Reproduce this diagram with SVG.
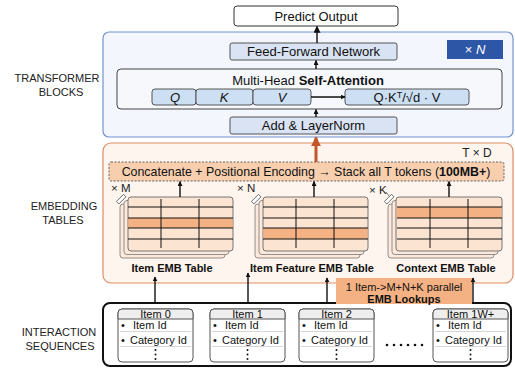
<svg xmlns="http://www.w3.org/2000/svg" width="515" height="368" viewBox="0 0 515 368">
<defs>
<style>
text{font-family:"Liberation Sans",Arial,sans-serif;fill:#111}
.side{font-size:11px;text-anchor:middle;fill:#222}
.box{font-size:13px;text-anchor:middle}
.blk{fill:#d9e3f3;stroke:#555;stroke-width:1}
.qkv{fill:#cddff3;stroke:#555;stroke-width:1}
.front{fill:#fce4d2;stroke:#555;stroke-width:0.8}
.back{fill:#fce9dc;stroke:#777;stroke-width:0.8}
.hl{fill:#f4b183}
.grid{stroke:#111;stroke-width:1;fill:none}
.tlabel{font-size:11px;font-weight:bold;text-anchor:middle}
.mult{font-size:11.5px;fill:#222}
.mark{fill:#fff;stroke:#555;stroke-width:0.8}
.card{fill:#fff;stroke:#555;stroke-width:1}
.chead{fill:#eeeeee;stroke:#555;stroke-width:1}
.ctext{font-size:11px}
.sep{stroke:#ccc;stroke-width:0.8}
.conn{stroke:#111;stroke-width:1.4;fill:none}
.dot{fill:#111}
</style>
<marker id="ah" viewBox="0 0 8 8" refX="7" refY="4" markerWidth="5" markerHeight="5" markerUnits="userSpaceOnUse" orient="auto">
<path d="M0,0 L8,4 L0,8 z" fill="#111"/>
</marker>
<marker id="ahB" viewBox="0 0 8 8" refX="7" refY="4" markerWidth="7" markerHeight="7" markerUnits="userSpaceOnUse" orient="auto">
<path d="M0,0 L8,4 L0,8 z" fill="#111"/>
</marker>
<marker id="ahO" viewBox="0 0 8 8" refX="7" refY="4" markerWidth="10" markerHeight="10" markerUnits="userSpaceOnUse" orient="auto">
<path d="M0,0 L8,4 L0,8 z" fill="#c4542a"/>
</marker>
<g id="tableGrid">
<line class="grid" x1="0" y1="10" x2="105" y2="10"/>
<line class="grid" x1="0" y1="21" x2="105" y2="21"/>
<line class="grid" x1="0" y1="31" x2="105" y2="31"/>
<line class="grid" x1="0" y1="42" x2="105" y2="42"/>
<line class="grid" x1="33" y1="2" x2="33" y2="51"/>
<line class="grid" x1="71" y1="2" x2="71" y2="51"/>
</g>
<g id="vdots">
<circle class="dot" cx="0" cy="0" r="1"/>
<circle class="dot" cx="0" cy="4.5" r="1"/>
<circle class="dot" cx="0" cy="9" r="1"/>
</g>
</defs>

<!-- side labels -->
<g id="side-labels">
<text class="side" x="57" y="82">TRANSFORMER</text>
<text class="side" x="61" y="96">BLOCKS</text>
<text class="side" x="64" y="210">EMBEDDING</text>
<text class="side" x="63" y="224">TABLES</text>
<text class="side" x="59" y="336">INTERACTION</text>
<text class="side" x="60" y="350">SEQUENCES</text>
</g>

<!-- transformer group -->
<g id="transformer-blocks">
<rect x="103" y="32" width="410" height="105" rx="6" fill="#f3f6fc" stroke="#7393d0" stroke-width="1.2"/>
</g>
<g id="predict-output">
<rect x="234" y="6" width="164" height="20" rx="3" fill="#fff" stroke="#333" stroke-width="1"/>
<text class="box" x="316" y="21" font-size="13.5">Predict Output</text>
</g>
<g id="ffn">
<rect class="blk" x="230" y="43" width="167" height="17" rx="2"/>
<text class="box" x="313.5" y="56">Feed-Forward Network</text>
</g>
<g id="times-n">
<rect x="447" y="40" width="56" height="19" fill="#2e56a6"/>
<text x="475" y="54" font-size="13" text-anchor="middle" style="fill:#fff">× <tspan font-style="italic">N</tspan></text>
</g>
<g id="mha">
<rect x="117" y="69" width="385" height="40" rx="4" fill="#f6f8fc" stroke="#444" stroke-width="1"/>
<text class="box" x="308" y="85">Multi-Head <tspan font-weight="bold">Self-Attention</tspan></text>
<rect class="qkv" x="152" y="89" width="44" height="16" rx="3"/>
<rect class="qkv" x="196" y="89" width="57" height="16" rx="3"/>
<rect class="qkv" x="253" y="89" width="58" height="16" rx="3"/>
<text class="box" x="175" y="102" font-style="italic">Q</text>
<text class="box" x="224" y="102" font-style="italic">K</text>
<text class="box" x="282" y="102" font-style="italic">V</text>
<rect class="qkv" x="345" y="89" width="124" height="16" rx="3"/>
<text class="box" x="407" y="102">Q·K<tspan font-size="9" dy="-4">T</tspan><tspan dy="4">/√d · V</tspan></text>
</g>
<g id="add-norm">
<rect class="blk" x="230" y="117" width="167" height="17" rx="2"/>
<text class="box" x="313.5" y="130">Add &amp; LayerNorm</text>
</g>

<!-- embedding group -->
<g id="embedding-tables">
<rect x="103" y="143" width="410" height="140" rx="8" fill="#fdf5ee" stroke="#df8d66" stroke-width="1.2"/>
<text x="477" y="157" font-size="12" text-anchor="middle" style="fill:#222">T × D</text>
</g>
<g id="concat">
<rect x="109" y="162" width="395" height="19" rx="2" fill="#f8cfae" stroke="#444" stroke-width="0.8" stroke-dasharray="2,1.5"/>
<text x="306" y="176" font-size="12.4" text-anchor="middle">Concatenate + Positional Encoding → Stack all T tokens (<tspan font-weight="bold">100MB+</tspan>)</text>
</g>

<g id="item-emb-table">
<rect class="back" x="120" y="204" width="105" height="54" rx="3"/>
<rect class="back" x="124" y="200.5" width="105" height="54" rx="3"/>
<rect class="front" x="128" y="197" width="105" height="54" rx="3"/>
<rect class="hl" x="128.5" y="218" width="104" height="10"/>
<use href="#tableGrid" x="128" y="197"/>
<rect class="mark" x="116" y="197.5" width="10" height="3.5" transform="rotate(-45 121 199)"/>
<text class="mult" x="111" y="192">× M</text>
<text class="tlabel" x="172" y="272">Item EMB Table</text>
</g>

<g id="item-feature-emb-table">
<rect class="back" x="255" y="204" width="105" height="54" rx="3"/>
<rect class="back" x="259" y="200.5" width="105" height="54" rx="3"/>
<rect class="front" x="263" y="197" width="105" height="54" rx="3"/>
<rect class="hl" x="263.5" y="228" width="104" height="11"/>
<use href="#tableGrid" x="263" y="197"/>
<rect class="mark" x="251" y="197.5" width="10" height="3.5" transform="rotate(-45 256 199)"/>
<text class="mult" x="237" y="192">× N</text>
<text class="tlabel" x="312" y="272">Item Feature EMB Table</text>
</g>

<g id="context-emb-table">
<rect class="back" x="388" y="204" width="106" height="54" rx="3"/>
<rect class="back" x="392" y="200.5" width="106" height="54" rx="3"/>
<rect class="front" x="396" y="197" width="106" height="54" rx="3"/>
<rect class="hl" x="396.5" y="207" width="105" height="11"/>
<use href="#tableGrid" x="397" y="197"/>
<rect class="mark" x="384" y="197.5" width="10" height="3.5" transform="rotate(-45 389 199)"/>
<text class="mult" x="369" y="194">× K</text>
<line x1="386" y1="192" x2="389" y2="196" stroke="#555" stroke-width="0.8"/>
<text class="tlabel" x="446" y="272">Context EMB Table</text>
</g>

<!-- interaction sequences -->
<g id="interaction-sequences">
<rect x="103" y="303" width="408" height="63" rx="7" fill="#fff" stroke="#111" stroke-width="2"/>
</g>

<g id="lookup-note">
<rect x="336" y="278" width="136" height="26" fill="#f4b183"/>
<text x="404" y="291" font-size="11" text-anchor="middle">1 Item-&gt;M+N+K parallel</text>
<text x="404" y="302.5" font-size="11" text-anchor="middle" font-weight="bold">EMB Lookups</text>
</g>

<g id="item-0">
<rect class="card" x="118" y="309" width="75" height="53" rx="4"/>
<path class="chead" d="M118,319 V313 a4,4 0 0 1 4,-4 H189 a4,4 0 0 1 4,4 V319 z"/>
<text class="ctext" x="155.5" y="318" text-anchor="middle">Item 0</text>
<text class="ctext" x="121" y="329">•</text><text class="ctext" x="133" y="329">Item Id</text>
<line class="sep" x1="120" y1="331.5" x2="191" y2="331.5"/>
<text class="ctext" x="121" y="344">•</text><text class="ctext" x="130" y="344">Category Id</text>
<line class="sep" x1="120" y1="346.5" x2="191" y2="346.5"/>
<use href="#vdots" x="155.5" y="350"/>
</g>

<g id="item-1">
<rect class="card" x="210" y="309" width="75" height="53" rx="4"/>
<path class="chead" d="M210,319 V313 a4,4 0 0 1 4,-4 H281 a4,4 0 0 1 4,4 V319 z"/>
<text class="ctext" x="247.5" y="318" text-anchor="middle">Item 1</text>
<text class="ctext" x="213" y="329">•</text><text class="ctext" x="225" y="329">Item Id</text>
<line class="sep" x1="212" y1="331.5" x2="283" y2="331.5"/>
<text class="ctext" x="213" y="344">•</text><text class="ctext" x="222" y="344">Category Id</text>
<line class="sep" x1="212" y1="346.5" x2="283" y2="346.5"/>
<use href="#vdots" x="247.5" y="350"/>
</g>

<g id="item-2">
<rect class="card" x="299" y="309" width="75" height="53" rx="4"/>
<path class="chead" d="M299,319 V313 a4,4 0 0 1 4,-4 H370 a4,4 0 0 1 4,4 V319 z"/>
<text class="ctext" x="336.5" y="318" text-anchor="middle">Item 2</text>
<text class="ctext" x="302" y="329">•</text><text class="ctext" x="314" y="329">Item Id</text>
<line class="sep" x1="301" y1="331.5" x2="372" y2="331.5"/>
<text class="ctext" x="302" y="344">•</text><text class="ctext" x="311" y="344">Category Id</text>
<line class="sep" x1="301" y1="346.5" x2="372" y2="346.5"/>
<use href="#vdots" x="336.5" y="350"/>
</g>

<g id="ellipsis">
<circle cx="387" cy="345" r="1.3" fill="#111"/>
<circle cx="394" cy="345" r="1.3" fill="#111"/>
<circle cx="401" cy="345" r="1.3" fill="#111"/>
<circle cx="408" cy="345" r="1.3" fill="#111"/>
<circle cx="415" cy="345" r="1.3" fill="#111"/>
<circle cx="422" cy="345" r="1.3" fill="#111"/>
</g>

<g id="item-1w">
<rect class="card" x="433" y="309" width="75" height="53" rx="4"/>
<path class="chead" d="M433,319 V313 a4,4 0 0 1 4,-4 H504 a4,4 0 0 1 4,4 V319 z"/>
<text class="ctext" x="470.5" y="318" text-anchor="middle">Item 1W+</text>
<text class="ctext" x="436" y="329">•</text><text class="ctext" x="448" y="329">Item Id</text>
<line class="sep" x1="435" y1="331.5" x2="506" y2="331.5"/>
<text class="ctext" x="436" y="344">•</text><text class="ctext" x="445" y="344">Category Id</text>
<line class="sep" x1="435" y1="346.5" x2="506" y2="346.5"/>
<use href="#vdots" x="470.5" y="350"/>
</g>

<!-- connectors -->
<g id="connectors">
<line class="conn" x1="316" y1="117" x2="316" y2="109.5" marker-end="url(#ah)"/>
<line class="conn" x1="316" y1="69" x2="316" y2="60.5" marker-end="url(#ah)"/>
<line class="conn" x1="317" y1="43" x2="317" y2="26.5" stroke-width="2" marker-end="url(#ahB)"/>
<line class="conn" x1="311" y1="97" x2="345" y2="97" marker-end="url(#ah)"/>
<line x1="316" y1="162" x2="316" y2="137.5" stroke="#c4542a" stroke-width="3" marker-end="url(#ahO)"/>
<line class="conn" x1="180" y1="197" x2="180" y2="181.5" marker-end="url(#ah)"/>
<line class="conn" x1="314" y1="197" x2="314" y2="181.5" marker-end="url(#ah)"/>
<line class="conn" x1="449" y1="197" x2="449" y2="181.5" marker-end="url(#ah)"/>
<line class="conn" x1="155" y1="303" x2="155" y2="277" marker-end="url(#ah)"/>
<line class="conn" x1="248" y1="303" x2="248" y2="273" marker-end="url(#ah)"/>
<line class="conn" x1="327" y1="303" x2="327" y2="278" marker-end="url(#ah)"/>
<line class="conn" x1="473" y1="303" x2="473" y2="278" marker-end="url(#ah)"/>
</g>
</svg>
